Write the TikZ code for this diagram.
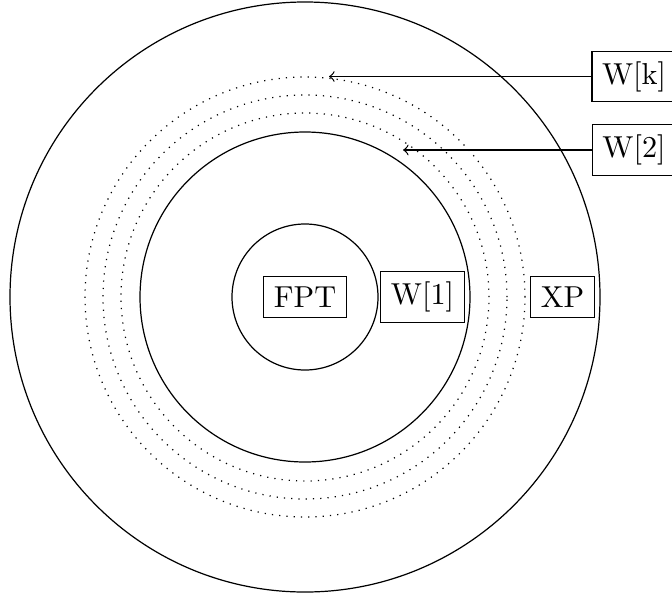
\documentclass[tikz,border=0pt]{standalone}
\begin{document}
\begin{tikzpicture}[x=0.33pt,y=0.33pt,
  labelbox/.style={draw,inner sep=0.3333em},
  ring/.style={draw},
  dotring/.style={draw,dotted}]
\useasboundingbox (0,0) rectangle (672,595);
\coordinate (C) at (305,298);
% circles
\draw[ring] (C) circle[radius=295];
\draw[ring] (C) circle[radius=165];
\draw[ring] (C) circle[radius=73];
\draw[dotring] (C) circle[radius=184];
\draw[dotring] (C) circle[radius=202];
\draw[dotring] (C) circle[radius=220];
% labels
\node[labelbox] (fpt) at (305,298) {FPT};
\node[labelbox] (w1) at (422.5,298) {W[1]};
\node[labelbox] (xp) at (562.5,298) {XP};
\node[labelbox] (wk) at (634,518.5) {W[k]};
\node[labelbox] (w2) at (634,445) {W[2]};
% arrow targets
\coordinate (tk) at (329,518.5);
\coordinate (t2) at (403,445);
\draw[->] (wk.west) -- (tk);
\draw[->] (w2.west) -- (t2);
\end{tikzpicture}
\end{document}
